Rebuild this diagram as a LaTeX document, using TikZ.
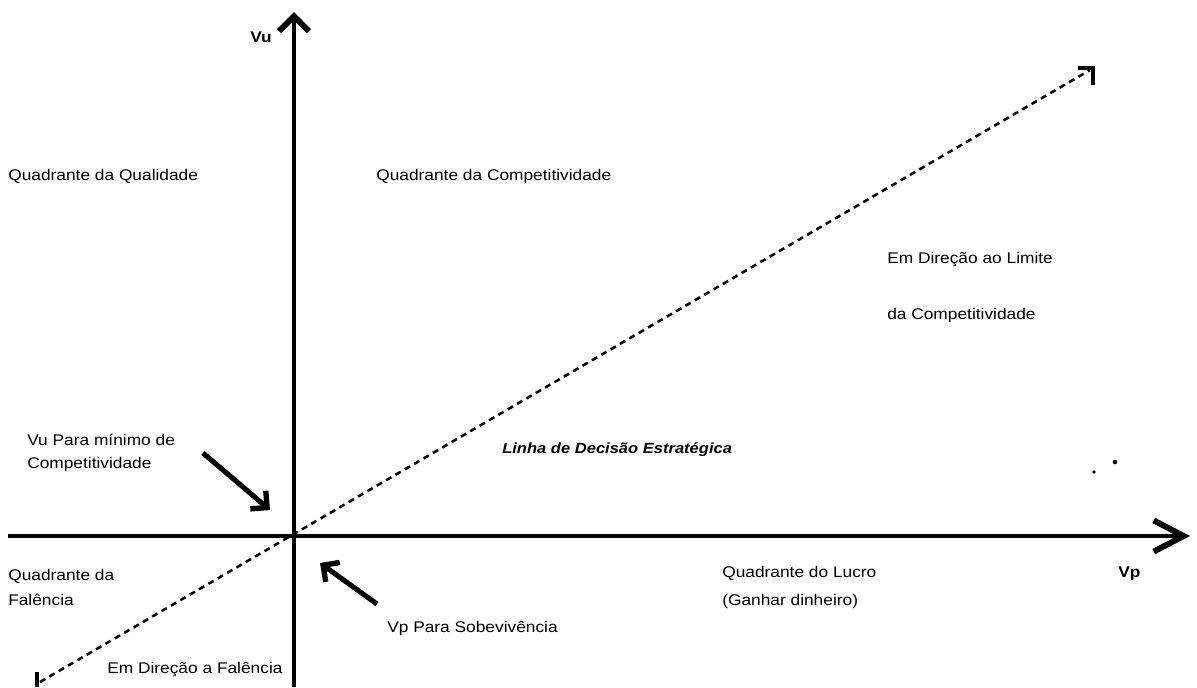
\documentclass[tikz,border=0pt]{standalone}
\usepackage{fontspec}
\setmainfont{Liberation Sans}[FakeStretch=1.12]
\usetikzlibrary{arrows.meta}
\begin{document}
\begin{tikzpicture}[x=0.025cm,y=-0.025cm,
  lbl/.style={anchor=base west, inner sep=0pt, font=\fontsize{11}{13}\selectfont},
  axisline/.style={line width=3pt},
  decision/.style={line width=1.8pt, dash pattern=on 4.3pt off 3.4pt},
  pointer/.style={line width=3.6pt, -{Straight Barb[angle=90:12pt, line width=3.8pt]}},
  corner/.style={line width=2.2pt, line cap=butt, line join=miter}]
\useasboundingbox (0,0) rectangle (1197,687);

% coordinates
\coordinate (O) at (294,536);
\coordinate (xs) at (8,536);
\coordinate (xe) at (1190,536);
\coordinate (ys) at (294,687);
\coordinate (ye) at (294,12);
\coordinate (ds) at (40,682);
\coordinate (de) at (1090,70);

% axes
\draw[axisline, -{Straight Barb[angle=55:24pt, line width=4.2pt]}] (xs) -- (xe);
\draw[axisline, -{Straight Barb[angle=90:15pt, line width=4.2pt]}] (ys) -- (ye);

% strategic decision line
\draw[decision] (ds) -- (de);
\coordinate (c1a) at (1078,68);
\coordinate (c1b) at (1093,68);
\coordinate (c1c) at (1093,85);
\draw[corner] (c1a) -- (c1b) -- (c1c);
\coordinate (c2a) at (37,672);
\coordinate (c2b) at (37,687);
\draw[corner] (c2a) -- (c2b);

% pointer arrows
\coordinate (p1s) at (203,453);
\coordinate (p1e) at (270,510);
\coordinate (p2s) at (377,604);
\coordinate (p2e) at (320,563);
\draw[pointer] (p1s) -- (p1e);
\draw[pointer] (p2s) -- (p2e);

% specks
\fill (1115,462) circle (2.3);
\fill (1094,472) circle (1.8);

% labels
\node[lbl] (vu) at (250,42) {\textbf{Vu}};
\node[lbl] (vp) at (1118,577) {\textbf{Vp}};
\node[lbl] (qq) at (8,180) {Quadrante da Qualidade};
\node[lbl] (qc) at (376,180) {Quadrante da Competitividade};
\node[lbl] (lim1) at (887,263) {Em Direção ao Limite};
\node[lbl] (lim2) at (887,319) {da Competitividade};
\node[lbl] (vum1) at (27,445) {Vu Para mínimo de};
\node[lbl] (vum2) at (27,468) {Competitividade};
\node[lbl, font=\fontsize{10.5}{12}\selectfont\bfseries\itshape] (lde) at (502,453) {Linha de Decisão Estratégica};
\node[lbl] (qf1) at (8,580) {Quadrante da};
\node[lbl] (qf2) at (8,605) {Falência};
\node[lbl] (edf) at (107,673) {Em Direção a Falência};
\node[lbl] (vps) at (387,632) {Vp Para Sobevivência};
\node[lbl] (ql1) at (722,577) {Quadrante do Lucro};
\node[lbl] (ql2) at (722,605) {(Ganhar dinheiro)};
\end{tikzpicture}
\end{document}
